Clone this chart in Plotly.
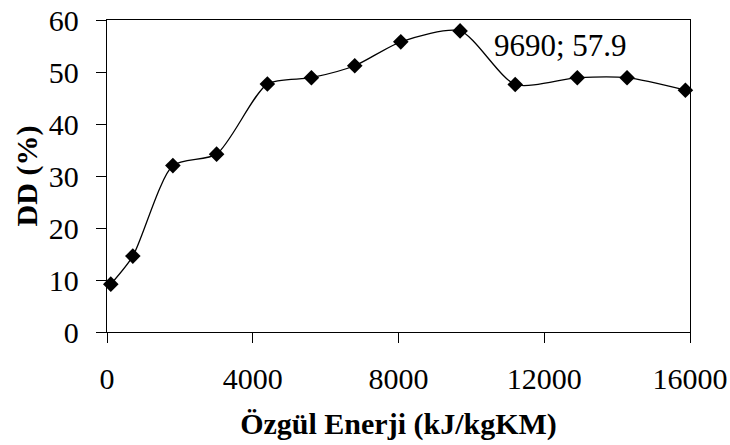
import plotly.graph_objects as go

# Data
energy = [104, 709, 1808, 3008, 4401, 5610, 6799, 8063, 9690, 11203, 12907, 14272, 15874]
dd = [9.2, 14.6, 32.0, 34.2, 47.7, 48.9, 51.2, 55.8, 57.9, 47.6, 48.9, 48.9, 46.5]

x_ticks = [0, 4000, 8000, 12000, 16000]
y_ticks = [0, 10, 20, 30, 40, 50, 60]
peak_label = "9690; 57.9"
peak_x, peak_y = 9690, 57.9

FONT = "Liberation Serif"

fig = go.Figure()
fig.add_trace(go.Scatter(
    x=energy, y=dd, mode="lines+markers",
    line=dict(color="black", width=1.3, shape="spline", smoothing=0.7),
    marker=dict(symbol="diamond", size=12, color="black"),
    cliponaxis=False, showlegend=False,
))

fig.add_annotation(
    x=peak_x, y=peak_y, text=peak_label, showarrow=False,
    xanchor="left", yanchor="middle", xshift=32, yshift=-15,
    font=dict(family=FONT, size=31, color="black"),
)

axis_common = dict(
    showgrid=False, zeroline=False, showline=True, linecolor="black",
    linewidth=1.3, mirror=True, ticks="outside", ticklen=10, tickwidth=1,
    tickcolor="black", tickfont=dict(family=FONT, size=30, color="black"),
    automargin=False, ticklabeloverflow="allow",
)

fig.update_xaxes(
    range=[0, 16000], tickvals=x_ticks, ticktext=[str(v) for v in x_ticks],
    title=dict(text="<b>Özgül Enerji (kJ/kgKM)</b>", standoff=18,
               font=dict(family=FONT, size=30, color="black")),
    ticklabelstandoff=10,
    **axis_common,
)
fig.update_yaxes(
    range=[0, 60], tickvals=y_ticks, ticktext=[str(v) for v in y_ticks],
    title=dict(text="<b>DD (%)</b>", standoff=2,
               font=dict(family=FONT, size=30, color="black")),
    ticklabelstandoff=11,
    **axis_common,
)

fig.update_layout(
    width=730, height=445,
    margin=dict(l=107, r=40, t=20, b=113),
    paper_bgcolor="white", plot_bgcolor="white",
)

# remove the default 8px page margin so the figure fills the window
fig.write_html("out.html", config={"displayModeBar": False},
               post_script="document.body.style.margin='0';")
